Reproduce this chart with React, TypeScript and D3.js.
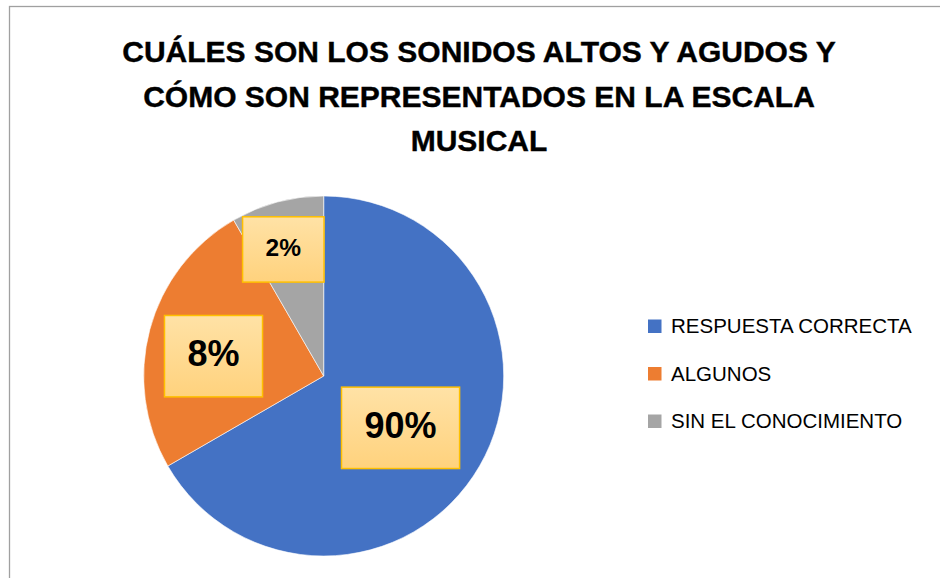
import React, { useEffect, useRef } from 'react';
import * as d3 from 'd3';

// Data
const categories = ['RESPUESTA CORRECTA', 'ALGUNOS', 'SIN EL CONOCIMIENTO'];
const values = [8, 3, 1];
const labelTexts = ['90%', '8%', '2%'];
const colors = ['#4472C4', '#ED7D31', '#A5A5A5'];
const titleLines = [
  'CUÁLES SON LOS SONIDOS ALTOS Y AGUDOS Y',
  'CÓMO SON REPRESENTADOS EN LA ESCALA',
  'MUSICAL',
];

// label layout: radius as fraction of pie radius, angle nudge (deg) from slice middle
const labelRadius = [0.515, 0.622, 0.738];
const labelNudge = [4, -4.8, -2.7];
const labelFont = [36, 36, 24.5];

export default function App() {
  const svgRef = useRef<SVGSVGElement>(null);

  useEffect(() => {
    if (!svgRef.current) return;
    const svg = d3.select(svgRef.current);
    svg.selectAll('*').remove();

    const width = 940;
    const height = 578;

    svg.append('rect')
      .attr('width', width)
      .attr('height', height)
      .attr('fill', '#fff');

    // chart area border (only top and left visible)
    svg.append('rect')
      .attr('x', 9.5)
      .attr('y', 6.5)
      .attr('width', 1000)
      .attr('height', 1000)
      .attr('fill', 'none')
      .attr('stroke', '#A0A0A0')
      .attr('stroke-width', 1.3);

    // Title
    const title = svg.append('text')
      .attr('x', 479)
      .attr('y', 62)
      .attr('text-anchor', 'middle')
      .attr('fill', '#000')
      .attr('stroke', '#000')
      .attr('stroke-width', 0.4)
      .style('font-family', '"Liberation Sans", Arial, sans-serif')
      .style('font-weight', 'bold')
      .style('font-size', '30px');
    titleLines.forEach((line, i) => {
      title.append('tspan')
        .attr('x', 479)
        .attr('dy', i === 0 ? 0 : 44.5)
        .text(line);
    });

    // Pie
    const cx = 323.7;
    const cy = 376;
    const r = 180;

    const pie = d3.pie<number>().sort(null).value(d => d);
    const arcs = pie(values);
    const arc = d3.arc<d3.PieArcDatum<number>>().innerRadius(0).outerRadius(r);

    const g = svg.append('g').attr('transform', `translate(${cx},${cy})`);

    g.selectAll('path')
      .data(arcs)
      .enter().append('path')
      .attr('d', arc)
      .attr('fill', (_, i) => colors[i])
      .attr('stroke', '#fff')
      .attr('stroke-width', 0.6);

    // label box gradient
    const defs = svg.append('defs');
    const grad = defs.append('linearGradient')
      .attr('id', 'lblGrad')
      .attr('x1', 0).attr('y1', 0).attr('x2', 0).attr('y2', 1);
    grad.append('stop').attr('offset', '0%').attr('stop-color', '#FFE2A6');
    grad.append('stop').attr('offset', '100%').attr('stop-color', '#FFD27D');

    arcs.forEach((a, i) => {
      const mid = (a.startAngle + a.endAngle) / 2 + (labelNudge[i] * Math.PI) / 180;
      const rr = r * labelRadius[i];
      const lx = Math.sin(mid) * rr;
      const ly = -Math.cos(mid) * rr;
      const fs = labelFont[i];

      const lg = g.append('g').attr('transform', `translate(${lx},${ly})`);
      const box = lg.append('rect')
        .attr('fill', 'url(#lblGrad)')
        .attr('stroke', '#FFC000')
        .attr('stroke-width', 1.5);
      const t = lg.append('text')
        .attr('text-anchor', 'middle')
        .attr('y', fs * 0.27)
        .attr('fill', '#000')
        .style('font-family', '"Liberation Sans", Arial, sans-serif')
        .style('font-weight', 'bold')
        .style('font-size', `${fs}px`)
        .text(labelTexts[i]);
      const tw = (t.node() as SVGTextElement).getComputedTextLength();
      const bw = tw + 46;
      const bh = fs * 1.4 + 31;
      box.attr('x', -bw / 2).attr('y', -bh / 2).attr('width', bw).attr('height', bh);
    });

    // Legend
    const legend = svg.append('g').attr('transform', 'translate(648,333)');
    categories.forEach((c, i) => {
      const row = legend.append('g').attr('transform', `translate(0,${i * 47.5})`);
      row.append('rect')
        .attr('x', 0)
        .attr('y', -13.5)
        .attr('width', 13.5)
        .attr('height', 13.5)
        .attr('fill', colors[i]);
      row.append('text')
        .attr('x', 23)
        .attr('y', 0)
        .attr('fill', '#000')
        .style('font-family', '"Liberation Sans", Arial, sans-serif')
        .style('font-size', '20.5px')
        .text(c);
    });
  }, []);

  return (
    <svg
      ref={svgRef}
      width={940}
      height={578}
      style={{ position: 'absolute', left: 0, top: 0, display: 'block' }}
    />
  );
}
